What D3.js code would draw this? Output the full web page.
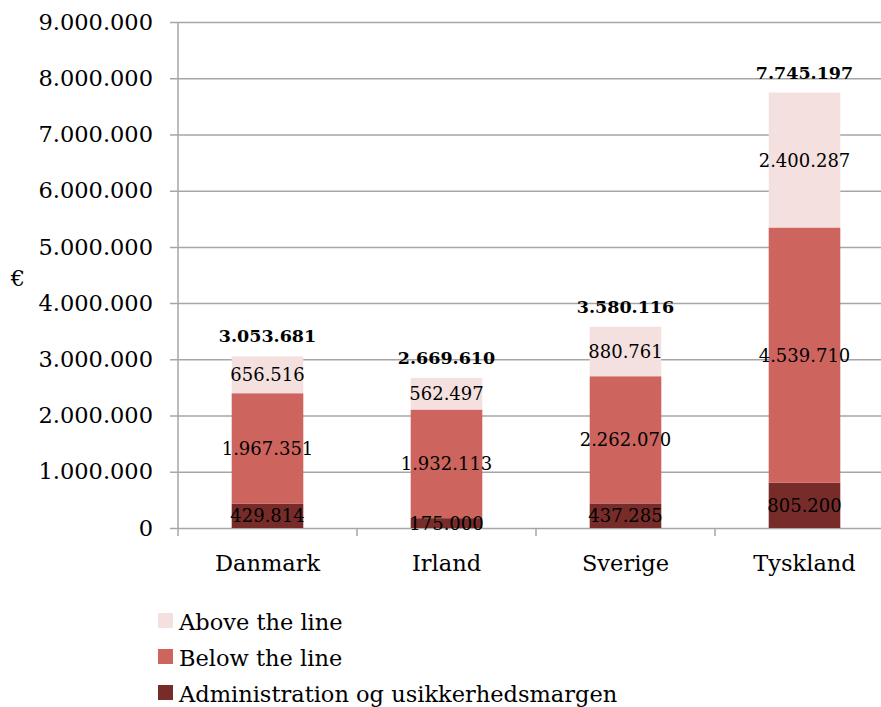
<!DOCTYPE html>
<html>
<head>
<meta charset="utf-8">
<script src="https://cdn.jsdelivr.net/npm/d3@7"></script>
<style>
  body { margin: 0; background: #fff; }
  svg { display: block; font-family: "DejaVu Serif", serif; }
</style>
</head>
<body>
<div id="chart"></div>
<script>
// Data
const countries = ["Danmark", "Irland", "Sverige", "Tyskland"];
const seriesNames = ["Administration og usikkerhedsmargen", "Below the line", "Above the line"];
const admin = [429814, 175000, 437285, 805200];
const below = [1967351, 1932113, 2262070, 4539710];
const above = [656516, 562497, 880761, 2400287];
const totals = [3053681, 2669610, 3580116, 7745197];
const yTicks = [0, 1000000, 2000000, 3000000, 4000000, 5000000, 6000000, 7000000, 8000000, 9000000];

const colors = {
  "Administration og usikkerhedsmargen": "#772c2a",
  "Below the line": "#cd645e",
  "Above the line": "#f4e0df"
};

const width = 881, height = 707;
const margin = { top: 22, left: 178, bottom: 179 };
const fmt = v => d3.format(",")(v).replace(/,/g, ".");

const rows = countries.map((c, i) => ({
  country: c,
  "Administration og usikkerhedsmargen": admin[i],
  "Below the line": below[i],
  "Above the line": above[i],
  total: totals[i]
}));

const svg = d3.select("#chart").append("svg")
  .attr("width", width)
  .attr("height", height);

const x = d3.scaleBand()
  .domain(countries)
  .range([margin.left, 894])
  .paddingInner(0.6)
  .paddingOuter(0.3);

const y = d3.scaleLinear()
  .domain([0, 9000000])
  .range([height - margin.bottom, margin.top]);

// Gridlines + y axis labels
svg.append("g")
  .attr("transform", `translate(${margin.left},0)`)
  .call(d3.axisLeft(y).tickValues(yTicks).tickSize(-(width - margin.left)).tickSizeOuter(0).tickFormat(fmt))
  .call(g => g.select(".domain").remove())
  .call(g => g.selectAll(".tick line").attr("x1", -8).attr("stroke", "#a6a6a6").attr("stroke-width", 1.5))
  .call(g => g.selectAll(".tick text").attr("x", -25).attr("font-size", 22.5).attr("fill", "#000")
    .attr("font-family", "DejaVu Serif"));

// vertical axis line
svg.append("line")
  .attr("x1", margin.left).attr("x2", margin.left)
  .attr("y1", y(9000000)).attr("y2", y(0) + 8)
  .attr("stroke", "#a6a6a6").attr("stroke-width", 1.5);

// x axis ticks between categories
svg.append("g").selectAll("line")
  .data(countries.slice(1))
  .join("line")
  .attr("x1", c => x(c) - (x.step() - x.bandwidth()) / 2)
  .attr("x2", c => x(c) - (x.step() - x.bandwidth()) / 2)
  .attr("y1", y(0)).attr("y2", y(0) + 8)
  .attr("stroke", "#a6a6a6").attr("stroke-width", 1.5);

// category labels
svg.append("g").selectAll("text")
  .data(countries)
  .join("text")
  .attr("x", c => x(c) + x.bandwidth() / 2)
  .attr("y", y(0) + 43)
  .attr("text-anchor", "middle")
  .attr("font-size", 22.5)
  .text(c => c);

// stacked bars
const stack = d3.stack().keys(seriesNames)(rows);

const layers = svg.append("g").selectAll("g")
  .data(stack)
  .join("g")
  .attr("fill", d => colors[d.key]);

layers.selectAll("rect")
  .data(d => d)
  .join("rect")
  .attr("x", d => x(d.data.country))
  .attr("y", d => y(d[1]))
  .attr("width", x.bandwidth())
  .attr("height", d => y(d[0]) - y(d[1]));

// segment value labels
svg.append("g").selectAll("g")
  .data(stack)
  .join("g")
  .selectAll("text")
  .data(d => d)
  .join("text")
  .attr("x", d => x(d.data.country) + x.bandwidth() / 2)
  .attr("y", d => (y(d[0]) + y(d[1])) / 2)
  .attr("dy", "0.36em")
  .attr("text-anchor", "middle")
  .attr("font-size", 18)
  .attr("fill", "#000")
  .text(d => fmt(d[1] - d[0]));

// totals
svg.append("g").selectAll("text")
  .data(rows)
  .join("text")
  .attr("x", d => x(d.country) + x.bandwidth() / 2)
  .attr("y", d => y(d.total) - 14)
  .attr("text-anchor", "middle")
  .attr("font-size", 17.5)
  .attr("font-weight", "bold")
  .text(d => fmt(d.total));

// y axis title
svg.append("text")
  .attr("x", 18).attr("y", 286)
  .attr("text-anchor", "middle")
  .attr("font-size", 22.5)
  .text("€");

// legend
const legendOrder = ["Above the line", "Below the line", "Administration og usikkerhedsmargen"];
const legend = svg.append("g").selectAll("g")
  .data(legendOrder)
  .join("g")
  .attr("transform", (d, i) => `translate(158,${622 + i * 36})`);

legend.append("rect")
  .attr("x", 0).attr("y", -9)
  .attr("width", 15).attr("height", 15)
  .attr("fill", d => colors[d]);

legend.append("text")
  .attr("x", 21).attr("y", 0)
  .attr("dy", "0.35em")
  .attr("font-size", 22.5)
  .text(d => d);
</script>
</body>
</html>
